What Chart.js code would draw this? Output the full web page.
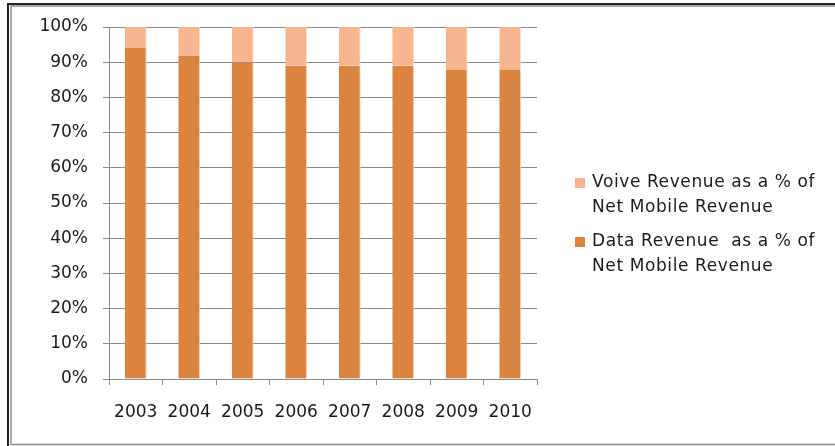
<!DOCTYPE html>
<html>
<head>
<meta charset="utf-8">
<script src="https://cdn.jsdelivr.net/npm/chart.js@4/dist/chart.umd.min.js"></script>
<style>
  html, body { margin: 0; padding: 0; background: #fff; }
  canvas { display: block; }
</style>
</head>
<body>
<canvas id="chart" width="835" height="446"></canvas>
<script>
// valores (% da receita móvel líquida)
const years = ["2003", "2004", "2005", "2006", "2007", "2008", "2009", "2010"];
const dataRevenue = [94, 92, 90, 89, 89, 89, 88, 88];
const voiceRevenue = [6, 8, 10, 11, 11, 11, 12, 12];
const yTicks = [0, 10, 20, 30, 40, 50, 60, 70, 80, 90, 100];

const darkOrange = "#db843f";
const lightOrange = "#f8b690";
const fontFamily = "'DejaVu Sans', sans-serif";

// moldura em volta do gráfico
const framePlugin = {
  id: "frame",
  beforeDraw(chart) {
    const ctx = chart.ctx;
    ctx.save();
    ctx.fillStyle = "#fff";
    ctx.fillRect(0, 0, chart.width, chart.height);
    ctx.strokeStyle = "#222";
    ctx.lineWidth = 2;
    ctx.beginPath();
    ctx.moveTo(8, 446); ctx.lineTo(8, 4); ctx.lineTo(835, 4);
    ctx.stroke();
    ctx.strokeStyle = "#8a8a8a";
    ctx.lineWidth = 1.5;
    ctx.beginPath();
    ctx.moveTo(835, 444.5); ctx.lineTo(11, 444.5); ctx.lineTo(11, 6);  ctx.lineTo(835, 6);
    ctx.stroke();
    ctx.restore();
  }
};

// legenda em duas linhas, como no original
const legendPlugin = {
  id: "sideLegend",
  afterDraw(chart) {
    const ctx = chart.ctx;
    const items = [chart.data.datasets[1], chart.data.datasets[0]];
    const tops = [183, 242];
    ctx.save();
    ctx.font = "17px " + fontFamily;
    ctx.textBaseline = "middle";
    ctx.letterSpacing = "0.6px";
    items.forEach((ds, i) => {
      const y = tops[i];
      ctx.fillStyle = ds.backgroundColor;
      ctx.fillRect(575, y - 5, 10, 10);
      ctx.fillStyle = "#1a1a1a";
      ds.label.forEach((line, j) => {
        ctx.fillText(line, 592, y + j * 25);
      });
    });
    ctx.restore();
  }
};

new Chart(document.getElementById("chart"), {
  type: "bar",
  data: {
    labels: years,
    datasets: [{
      label: ["Data Revenue  as a % of", "Net Mobile Revenue"],
      data: dataRevenue,
      backgroundColor: darkOrange,
      borderColor: "#fbd9c4",
      borderWidth: { right: 1 },
      borderSkipped: false,
      barPercentage: 0.41,
      categoryPercentage: 1
    },
    {
      label: ["Voive Revenue as a % of", "Net Mobile Revenue"],
      data: voiceRevenue,
      backgroundColor: lightOrange,
      borderColor: "#fde3d3",
      borderWidth: { right: 1 },
      borderSkipped: false,
      barPercentage: 0.41,
      categoryPercentage: 1
    }]
  },
  options: {
    responsive: false,
    animation: false,
    layout: { padding: { top: 27, right: 298, left: 0, bottom: 0 } },
    plugins: {
      legend: { display: false },
      tooltip: { enabled: false }
    },
    scales: {
      x: {
        stacked: true,
        afterFit: (s) => { s.height = 67; },
        grid: { drawOnChartArea: false, drawTicks: true, tickLength: 6, color: "#8a8a8a" },
        border: { color: "#8a8a8a" },
        ticks: { color: "#1a1a1a", font: { family: fontFamily, size: 17 }, padding: 17, maxRotation: 0, autoSkip: false }
      },
      y: {
        stacked: true,
        min: 0,
        max: 100,
        afterFit: (s) => { s.width = 109; },
        afterBuildTicks: (s) => { s.ticks = yTicks.map(v => ({ value: v })); },
        grid: { color: "#8a8a8a", tickLength: 6 },
        border: { color: "#8a8a8a" },
        ticks: {
          color: "#1a1a1a",
          font: { family: fontFamily, size: 17 },
          padding: 15,
          callback: (v) => v + "%"
        }
      }
    }
  },
  plugins: [framePlugin, legendPlugin]
});
</script>
</body>
</html>
